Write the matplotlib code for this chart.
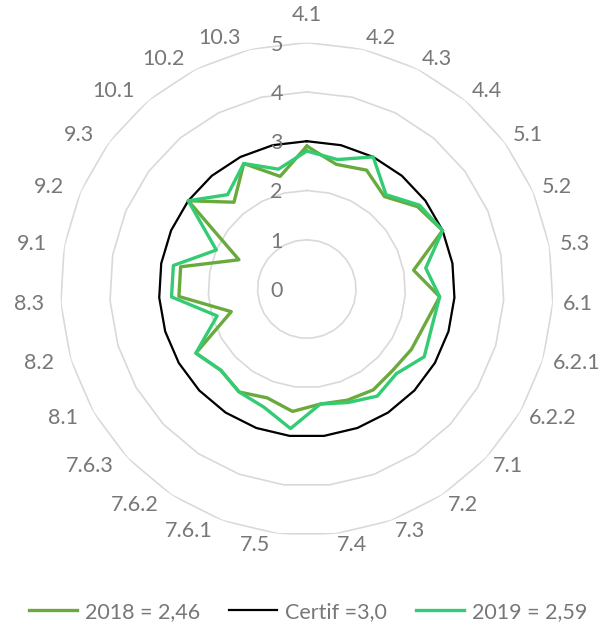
import numpy as np
import matplotlib
matplotlib.use('Agg')
import matplotlib.pyplot as plt
from matplotlib.lines import Line2D

categories = ["4.1", "4.2", "4.3", "4.4", "5.1", "5.2", "5.3", "6.1", "6.2.1", "6.2.2",
              "7.1", "7.2", "7.3", "7.4", "7.5", "7.6.1", "7.6.2", "7.6.3", "8.1", "8.2",
              "8.3", "9.1", "9.2", "9.3", "10.1", "10.2", "10.3"]
scores_2018 = [2.9, 2.6, 2.7, 2.45, 2.8, 3.0, 2.2, 2.7, 2.5, 2.45,
               2.4, 2.45, 2.4, 2.35, 2.5, 2.35, 2.5, 2.4, 2.6, 1.6,
               2.6, 2.6, 1.5, 3.0, 2.3, 2.85, 2.35]
scores_certif = [3.0] * len(categories)
scores_2019 = [2.8, 2.7, 3.0, 2.5, 2.85, 3.0, 2.45, 2.7, 2.65, 2.75,
               2.5, 2.6, 2.45, 2.35, 2.85, 2.55, 2.5, 2.4, 2.6, 1.9,
               2.75, 2.75, 2.0, 3.0, 2.5, 2.85, 2.5]
series_labels = ["2018 = 2,46", "Certif =3,0", "2019 = 2,59"]
radial_ticks = [0, 1, 2, 3, 4, 5]

plt.rcParams['font.family'] = ['Lato', 'DejaVu Sans']
text_color = '#777777'
grid_color = '#d9d9d9'
fs = 15.5

fig = plt.figure(figsize=(6.04, 6.27), dpi=100)
ax = fig.add_axes([0.1, 0.146, 0.816, 0.786], polar=True)
ax.set_theta_zero_location('N')
ax.set_theta_direction(-1)

n = len(categories)
angles = np.arange(n) * 2 * np.pi / n
closed = np.append(angles, angles[0])

def close(vals):
    return list(vals) + [vals[0]]

# polygon rings like Excel
for r in radial_ticks[1:]:
    ax.plot(closed, [r] * (n + 1), color=grid_color, lw=1.2, zorder=1)

ax.plot(closed, close(scores_2018), color='#6aaa3c', lw=2.4, zorder=3)
ax.plot(closed, close(scores_certif), color='black', lw=1.6, zorder=3)
ax.plot(closed, close(scores_2019), color='#33cc74', lw=2.4, zorder=4)

ax.set_ylim(0, 5)
ax.grid(False)
ax.spines['polar'].set_visible(False)
ax.set_xticks([])
ax.set_yticks([])

# category labels, placed roughly the way Excel does it
for ang, lab in zip(angles, categories):
    s, c = np.sin(ang), np.cos(ang)
    if abs(s) < 0.05:
        ha, va, dx, dy = 'center', 'bottom', 0, 18
    elif s > 0:
        ha, va, dx, dy = 'left', 'center', 10 * s, 11.5 * c
    else:
        ha, va, dx, dy = 'right', 'center', 10 * s - 7, 11.5 * c
    ax.annotate(lab, xy=(ang, 5), xytext=(dx, dy), textcoords='offset pixels',
                ha=ha, va=va, fontsize=fs, color=text_color, annotation_clip=False)

# radial value labels
for r in radial_ticks:
    ax.annotate(str(r), xy=(0, r), xytext=(-24, -2), textcoords='offset pixels',
                ha='right', va='center', fontsize=fs, color=text_color)

handles = [Line2D([], [], color='#6aaa3c', lw=2.4),
           Line2D([], [], color='black', lw=1.6),
           Line2D([], [], color='#33cc74', lw=2.4)]
leg = fig.legend(handles, series_labels, loc='center', bbox_to_anchor=(0.51, 0.024), ncol=3,
                 frameon=False, fontsize=fs, handlelength=2.25, handletextpad=0.35,
                 columnspacing=1.35)
for t in leg.get_texts():
    t.set_color(text_color)

fig.savefig('out.png', dpi=100)
